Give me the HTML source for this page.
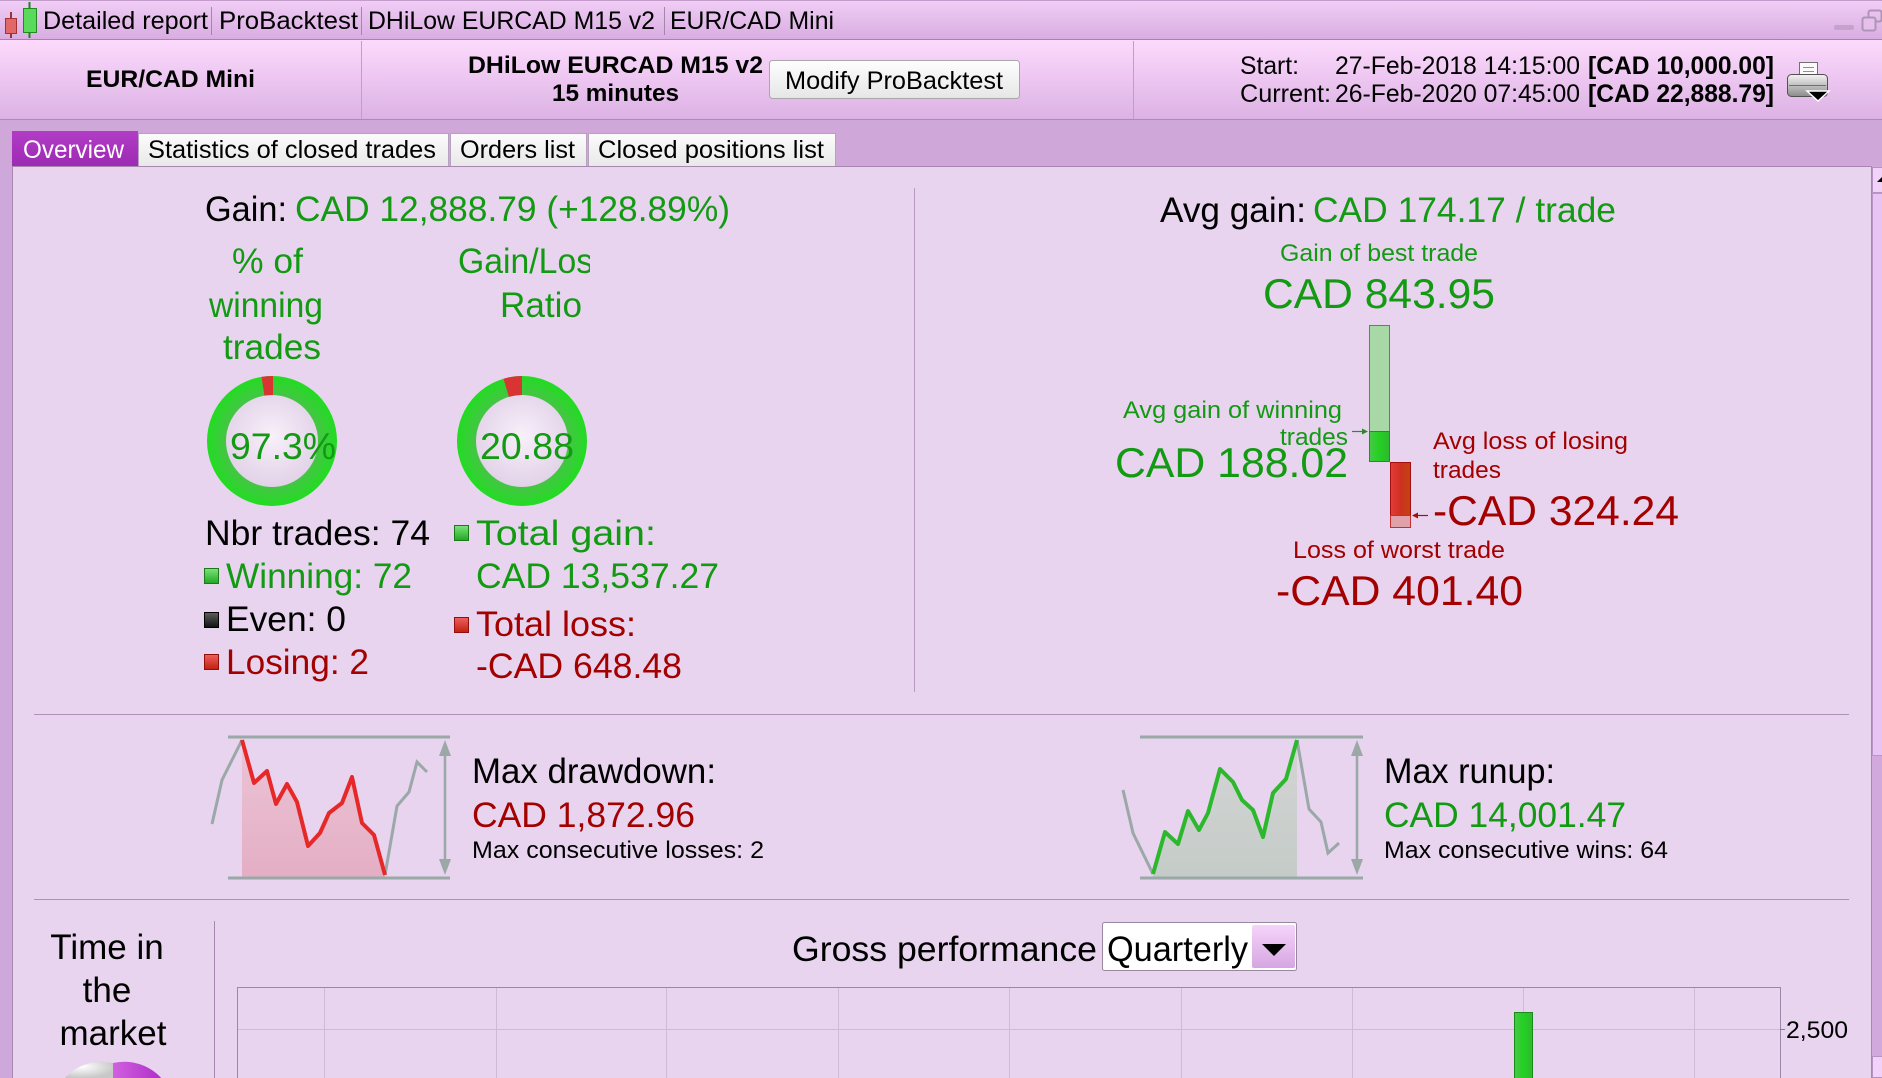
<!DOCTYPE html>
<html><head><meta charset="utf-8"><style>
html,body{margin:0;padding:0;width:1882px;height:1078px;overflow:hidden;background:#e8d4ee;}
svg{display:block;}
</style></head><body>
<svg xmlns="http://www.w3.org/2000/svg" width="1882" height="1078" viewBox="0 0 1882 1078" font-family="Liberation Sans, Arial, sans-serif">
<defs>
<linearGradient id="gTitle" x1="0" y1="0" x2="0" y2="1"><stop offset="0" stop-color="#f1cef6"/><stop offset="1" stop-color="#d8ace1"/></linearGradient>
<linearGradient id="gHead" x1="0" y1="0" x2="0" y2="1"><stop offset="0" stop-color="#fcdafc"/><stop offset="1" stop-color="#dcb2e4"/></linearGradient>
<linearGradient id="gBtn" x1="0" y1="0" x2="0" y2="1"><stop offset="0" stop-color="#fefefe"/><stop offset="1" stop-color="#e6e6e6"/></linearGradient>
<linearGradient id="gTab" x1="0" y1="0" x2="0" y2="1"><stop offset="0" stop-color="#fcfcfc"/><stop offset="1" stop-color="#e8e8e8"/></linearGradient>
<linearGradient id="gTabA" x1="0" y1="0" x2="0" y2="1"><stop offset="0" stop-color="#b23cc6"/><stop offset="1" stop-color="#9c2ab2"/></linearGradient>
<radialGradient id="gRing" cx="0.5" cy="0.5" r="0.5"><stop offset="0.7" stop-color="#46c446"/><stop offset="1" stop-color="#22dc22"/></radialGradient>
<radialGradient id="gInner" cx="0.5" cy="0.45" r="0.55"><stop offset="0" stop-color="#f8f0fa"/><stop offset="1" stop-color="#e2d2e8"/></radialGradient>
<linearGradient id="gSqG" x1="0" y1="0" x2="0" y2="1"><stop offset="0" stop-color="#7ee27e"/><stop offset="1" stop-color="#1fa81f"/></linearGradient>
<linearGradient id="gSqR" x1="0" y1="0" x2="0" y2="1"><stop offset="0" stop-color="#f06060"/><stop offset="1" stop-color="#c02010"/></linearGradient>
<linearGradient id="gSqK" x1="0" y1="0" x2="0" y2="1"><stop offset="0" stop-color="#606060"/><stop offset="1" stop-color="#101010"/></linearGradient>
<linearGradient id="gBarG" x1="0" y1="0" x2="1" y2="0"><stop offset="0" stop-color="#48c848"/><stop offset="0.5" stop-color="#22d022"/><stop offset="1" stop-color="#30b830"/></linearGradient>
<linearGradient id="gBarR" x1="0" y1="0" x2="1" y2="0"><stop offset="0" stop-color="#e43c3c"/><stop offset="0.5" stop-color="#d03020"/><stop offset="1" stop-color="#c04410"/></linearGradient>
<linearGradient id="gDD" x1="0" y1="0" x2="0" y2="1"><stop offset="0" stop-color="#ecc4d6"/><stop offset="1" stop-color="#e4aec4"/></linearGradient>
<linearGradient id="gRU" x1="0" y1="0" x2="0" y2="1"><stop offset="0" stop-color="#d4d4d4"/><stop offset="1" stop-color="#c4ccc8"/></linearGradient>
<linearGradient id="gDrop" x1="0" y1="0" x2="0" y2="1"><stop offset="0" stop-color="#f6d4fa"/><stop offset="1" stop-color="#d6a6e2"/></linearGradient>
<radialGradient id="gPieW" cx="0.35" cy="0.3" r="0.7"><stop offset="0" stop-color="#ffffff"/><stop offset="1" stop-color="#c8c8c8"/></radialGradient>
<linearGradient id="gPieM" x1="0" y1="0" x2="1" y2="0"><stop offset="0" stop-color="#d060e0"/><stop offset="1" stop-color="#b030c8"/></linearGradient>
<linearGradient id="gPrn" x1="0" y1="0" x2="0" y2="1"><stop offset="0" stop-color="#f4f4f4"/><stop offset="1" stop-color="#8c8c8c"/></linearGradient>
<clipPath id="clipGL"><rect x="440" y="240" width="150" height="100"/></clipPath>
<clipPath id="clipBot"><rect x="0" y="0" width="1882" height="1078"/></clipPath>
</defs>

<!-- base -->
<rect x="0" y="0" width="1882" height="1078" fill="#e8d4ee"/>

<!-- title bar -->
<rect x="0" y="0" width="1882" height="40" fill="url(#gTitle)"/>
<line x1="0" y1="0.5" x2="1882" y2="0.5" fill="none" stroke="#c49ccc"/>
<line x1="0" y1="39.5" x2="1882" y2="39.5" stroke="#a880b2"/>
<line x1="11" y1="12" x2="11" y2="38" stroke="#a03030" stroke-width="2"/>
<rect x="5.5" y="18.5" width="11" height="15" fill="#e06868" stroke="#a83030"/>
<line x1="29.5" y1="2" x2="29.5" y2="38" stroke="#208020" stroke-width="2"/>
<rect x="23.5" y="8.5" width="13" height="24" fill="#5ada5a" stroke="#208a20"/>
<g font-size="25" fill="#000">
<text x="43" y="29" textLength="165" lengthAdjust="spacingAndGlyphs">Detailed report</text>
<text x="219" y="29" textLength="139" lengthAdjust="spacingAndGlyphs">ProBacktest</text>
<text x="368" y="29" textLength="287" lengthAdjust="spacingAndGlyphs">DHiLow EURCAD M15 v2</text>
<text x="670" y="29" textLength="164" lengthAdjust="spacingAndGlyphs">EUR/CAD Mini</text>
</g>
<line x1="211.5" y1="7" x2="211.5" y2="35" stroke="#a088a8"/>
<line x1="361.5" y1="7" x2="361.5" y2="35" stroke="#a088a8"/>
<line x1="664.5" y1="7" x2="664.5" y2="35" stroke="#a088a8"/>
<rect x="1834" y="25" width="20" height="5" rx="2" fill="#c4a4cc"/>
<rect x="1868.5" y="10.5" width="13" height="11" rx="2" fill="none" stroke="#b094b8" stroke-width="2"/>
<rect x="1862.5" y="17.5" width="13" height="13" rx="2" fill="#e4c0ea" stroke="#b094b8" stroke-width="2"/>

<!-- header band -->
<rect x="0" y="40" width="1882" height="79" fill="url(#gHead)"/>
<line x1="0" y1="119.5" x2="1882" y2="119.5" stroke="#b088ba"/>
<line x1="361.5" y1="41" x2="361.5" y2="119" stroke="#c49ccc"/>
<line x1="1133.5" y1="41" x2="1133.5" y2="119" stroke="#c49ccc"/>
<g font-size="24" font-weight="bold" fill="#000">
<text x="86" y="87" textLength="169" lengthAdjust="spacingAndGlyphs">EUR/CAD Mini</text>
<text x="468" y="73" textLength="295" lengthAdjust="spacingAndGlyphs">DHiLow EURCAD M15 v2</text>
<text x="552" y="101" textLength="127" lengthAdjust="spacingAndGlyphs">15 minutes</text>
</g>
<rect x="769.5" y="60.5" width="250" height="38" rx="3" fill="url(#gBtn)" stroke="#a8a8a8"/>
<text x="785" y="89" font-size="25" fill="#000" textLength="218" lengthAdjust="spacingAndGlyphs">Modify ProBacktest</text>
<g font-size="25" fill="#000">
<text x="1240" y="74" textLength="59" lengthAdjust="spacingAndGlyphs">Start:</text>
<text x="1335" y="74" textLength="245" lengthAdjust="spacingAndGlyphs">27-Feb-2018 14:15:00</text>
<text x="1588" y="74" font-weight="bold" textLength="186" lengthAdjust="spacingAndGlyphs">[CAD 10,000.00]</text>
<text x="1240" y="102" textLength="91" lengthAdjust="spacingAndGlyphs">Current:</text>
<text x="1335" y="102" textLength="245" lengthAdjust="spacingAndGlyphs">26-Feb-2020 07:45:00</text>
<text x="1588" y="102" font-weight="bold" textLength="186" lengthAdjust="spacingAndGlyphs">[CAD 22,888.79]</text>
</g>
<!-- printer -->
<rect x="1799.5" y="62.5" width="18" height="16" fill="#fafafa" stroke="#707070"/>
<line x1="1803" y1="67.5" x2="1814" y2="67.5" stroke="#909090"/>
<line x1="1803" y1="71.5" x2="1814" y2="71.5" stroke="#909090"/>
<rect x="1787.5" y="74.5" width="40" height="22" rx="4" fill="url(#gPrn)" stroke="#505050"/>
<line x1="1789" y1="85.5" x2="1826" y2="85.5" stroke="#707070"/>
<path d="M1807,91 L1829,91 L1818,101 Z" fill="#000" stroke="#fff" stroke-width="1.5"/>

<!-- tab strip -->
<rect x="0" y="120" width="1882" height="46" fill="#cfa7d9"/>
<rect x="12" y="131" width="126" height="36" fill="url(#gTabA)"/>
<rect x="138.5" y="133.5" width="310" height="33" fill="url(#gTab)" stroke="#b8a0c0"/>
<rect x="450.5" y="133.5" width="136" height="33" fill="url(#gTab)" stroke="#b8a0c0"/>
<rect x="588.5" y="133.5" width="247" height="33" fill="url(#gTab)" stroke="#b8a0c0"/>
<g font-size="25">
<text x="23" y="158" fill="#fff" textLength="101" lengthAdjust="spacingAndGlyphs">Overview</text>
<text x="148" y="158" fill="#000" textLength="288" lengthAdjust="spacingAndGlyphs">Statistics of closed trades</text>
<text x="460" y="158" fill="#000" textLength="115" lengthAdjust="spacingAndGlyphs">Orders list</text>
<text x="598" y="158" fill="#000" textLength="226" lengthAdjust="spacingAndGlyphs">Closed positions list</text>
</g>

<!-- content frame -->
<rect x="0" y="166" width="12" height="912" fill="#cfa8db"/>
<line x1="12.5" y1="166" x2="12.5" y2="1078" stroke="#a888b0"/>
<line x1="12" y1="166.5" x2="1871" y2="166.5" stroke="#a888b0"/>
<!-- scrollbar -->
<rect x="1871" y="166" width="11" height="912" fill="#d2a9dd"/>
<line x1="1871.5" y1="166" x2="1871.5" y2="1078" stroke="#a888b0"/>
<rect x="1872.5" y="167.5" width="10" height="25" fill="#f2d2f8" stroke="#b494c0"/>
<path d="M1877,182 L1882,182 L1882,177 Z" fill="#000"/>
<rect x="1872.5" y="193.5" width="10" height="562" fill="#e8c4f4" stroke="#b898c8"/>
<rect x="1872.5" y="1056.5" width="10" height="21" fill="#f2d2f8" stroke="#b494c0"/>

<!-- top-left section -->
<line x1="914.5" y1="188" x2="914.5" y2="692" stroke="#b89cc0"/>
<text x="205" y="221" font-size="35" fill="#000" textLength="82" lengthAdjust="spacingAndGlyphs">Gain:</text>
<text x="295" y="221" font-size="35" fill="#139a13" textLength="435" lengthAdjust="spacingAndGlyphs">CAD 12,888.79 (+128.89%)</text>
<g font-size="35" fill="#139a13">
<text x="232" y="273" textLength="71" lengthAdjust="spacingAndGlyphs">% of</text>
<text x="209" y="317" textLength="114" lengthAdjust="spacingAndGlyphs">winning</text>
<text x="223" y="359" textLength="98" lengthAdjust="spacingAndGlyphs">trades</text>
<text x="458" y="273" clip-path="url(#clipGL)" textLength="152" lengthAdjust="spacingAndGlyphs">Gain/Loss</text>
<text x="500" y="317" textLength="82" lengthAdjust="spacingAndGlyphs">Ratio</text>
</g>
<!-- donut 1 -->
<circle cx="272" cy="441" r="65" fill="url(#gRing)"/>
<circle cx="272" cy="441" r="46" fill="url(#gInner)"/>
<path d="M261.5,376.9 A65,65 0 0 1 273,376 L273,395 A46,46 0 0 0 264.5,395.6 Z" fill="#d83434"/>
<text x="230" y="459" font-size="37" fill="#139a13" textLength="106" lengthAdjust="spacingAndGlyphs">97.3%</text>
<!-- donut 2 -->
<circle cx="522" cy="441" r="65" fill="url(#gRing)"/>
<circle cx="522" cy="441" r="46" fill="url(#gInner)"/>
<path d="M503.5,378.7 A65,65 0 0 1 522,376 L522,395 A46,46 0 0 0 508.9,396.9 Z" fill="#d83434"/>
<text x="480" y="459" font-size="37" fill="#139a13" textLength="94" lengthAdjust="spacingAndGlyphs">20.88</text>

<g font-size="35">
<text x="205" y="545" fill="#000" textLength="225" lengthAdjust="spacingAndGlyphs">Nbr trades: 74</text>
<rect x="204.5" y="568.5" width="14" height="15" fill="url(#gSqG)" stroke="#1a7a1a"/>
<text x="226" y="588" fill="#139a13" textLength="186" lengthAdjust="spacingAndGlyphs">Winning: 72</text>
<rect x="204.5" y="612.5" width="14" height="15" fill="url(#gSqK)" stroke="#000"/>
<text x="226" y="631" fill="#000" textLength="120" lengthAdjust="spacingAndGlyphs">Even: 0</text>
<rect x="204.5" y="654.5" width="14" height="15" fill="url(#gSqR)" stroke="#901010"/>
<text x="226" y="674" fill="#a30000" textLength="143" lengthAdjust="spacingAndGlyphs">Losing: 2</text>
<rect x="454.5" y="525.5" width="14" height="15" fill="url(#gSqG)" stroke="#1a7a1a"/>
<text x="476" y="545" fill="#139a13" textLength="180" lengthAdjust="spacingAndGlyphs">Total gain:</text>
<text x="476" y="588" fill="#139a13" textLength="243" lengthAdjust="spacingAndGlyphs">CAD 13,537.27</text>
<rect x="454.5" y="617.5" width="14" height="15" fill="url(#gSqR)" stroke="#901010"/>
<text x="476" y="636" fill="#a30000" textLength="160" lengthAdjust="spacingAndGlyphs">Total loss:</text>
<text x="476" y="678" fill="#a30000" textLength="206" lengthAdjust="spacingAndGlyphs">-CAD 648.48</text>
</g>

<!-- top-right section -->
<text x="1160" y="222" font-size="35" fill="#000" textLength="146" lengthAdjust="spacingAndGlyphs">Avg gain:</text>
<text x="1313" y="222" font-size="35" fill="#139a13" textLength="303" lengthAdjust="spacingAndGlyphs">CAD 174.17 / trade</text>
<text x="1280" y="261" font-size="24" fill="#139a13" textLength="198" lengthAdjust="spacingAndGlyphs">Gain of best trade</text>
<text x="1263" y="308" font-size="42" fill="#139a13" textLength="232" lengthAdjust="spacingAndGlyphs">CAD 843.95</text>
<rect x="1369.5" y="325.5" width="20" height="106" fill="#a8d8a6" stroke="#3c9c3c"/>
<rect x="1369.5" y="431.5" width="20" height="30" fill="url(#gBarG)" stroke="#209020"/>
<rect x="1390.5" y="462.5" width="20" height="53" fill="url(#gBarR)" stroke="#a01010"/>
<rect x="1390.5" y="515.5" width="20" height="12" fill="#e0a2a8" stroke="#c03030"/>
<line x1="1352" y1="431.5" x2="1364" y2="431.5" stroke="#2a8a2a" stroke-width="1.2"/>
<path d="M1368,431.5 L1362,428.5 L1362,434.5 Z" fill="#2a8a2a"/>
<line x1="1416" y1="515.5" x2="1428" y2="515.5" stroke="#a01010" stroke-width="1.2"/>
<path d="M1412,515.5 L1418,512.5 L1418,518.5 Z" fill="#a01010"/>
<text x="1123" y="418" font-size="24" fill="#139a13" textLength="219" lengthAdjust="spacingAndGlyphs">Avg gain of winning</text>
<text x="1280" y="445" font-size="24" fill="#139a13" textLength="68" lengthAdjust="spacingAndGlyphs">trades</text>
<text x="1115" y="477" font-size="42" fill="#139a13" textLength="233" lengthAdjust="spacingAndGlyphs">CAD 188.02</text>
<text x="1433" y="449" font-size="24" fill="#a30000" textLength="195" lengthAdjust="spacingAndGlyphs">Avg loss of losing</text>
<text x="1433" y="478" font-size="24" fill="#a30000" textLength="68" lengthAdjust="spacingAndGlyphs">trades</text>
<text x="1433" y="525" font-size="42" fill="#a30000" textLength="246" lengthAdjust="spacingAndGlyphs">-CAD 324.24</text>
<text x="1293" y="558" font-size="24" fill="#a30000" textLength="212" lengthAdjust="spacingAndGlyphs">Loss of worst trade</text>
<text x="1276" y="605" font-size="42" fill="#a30000" textLength="247" lengthAdjust="spacingAndGlyphs">-CAD 401.40</text>

<!-- separators -->
<line x1="34" y1="714.5" x2="1849" y2="714.5" stroke="#b090b8"/>
<line x1="34" y1="899.5" x2="1849" y2="899.5" stroke="#b090b8"/>

<!-- drawdown -->
<polygon points="242,740 254,783 267,771 276,804 287,784 297,802 308,846 320,833 329,813 342,803 352,777 362,823 374,835 385,875 385,878 242,878" fill="url(#gDD)"/>
<line x1="228" y1="737" x2="450" y2="737" stroke="#9aa8a8" stroke-width="3"/>
<line x1="228" y1="878" x2="450" y2="878" stroke="#9aa8a8" stroke-width="3"/>
<line x1="445" y1="752" x2="445" y2="863" stroke="#9aa8a8" stroke-width="2.5"/>
<path d="M445,740 L439,756 L451,756 Z" fill="#9aa8a8"/>
<path d="M445,875 L439,859 L451,859 Z" fill="#9aa8a8"/>
<polyline points="212,824 222,780 242,740" fill="none" stroke="#9aa8a8" stroke-width="3"/>
<polyline points="385,875 397,806 409,792 417,762 427,772" fill="none" stroke="#9aa8a8" stroke-width="3"/>
<polyline points="242,740 254,783 267,771 276,804 287,784 297,802 308,846 320,833 329,813 342,803 352,777 362,823 374,835 385,875" fill="none" stroke="#e62828" stroke-width="4" stroke-linejoin="round"/>
<text x="472" y="783" font-size="35" fill="#000" textLength="244" lengthAdjust="spacingAndGlyphs">Max drawdown:</text>
<text x="472" y="827" font-size="35" fill="#a30000" textLength="223" lengthAdjust="spacingAndGlyphs">CAD 1,872.96</text>
<text x="472" y="858" font-size="24" fill="#000" textLength="292" lengthAdjust="spacingAndGlyphs">Max consecutive losses: 2</text>

<!-- runup -->
<polygon points="1153,874 1165,832 1178,844 1188,811 1199,830 1208,813 1220,769 1233,782 1242,800 1253,810 1263,837 1273,793 1286,779 1297,740 1297,878 1153,878" fill="url(#gRU)"/>
<line x1="1140" y1="737" x2="1363" y2="737" stroke="#9aa8a8" stroke-width="3"/>
<line x1="1140" y1="878" x2="1363" y2="878" stroke="#9aa8a8" stroke-width="3"/>
<line x1="1357" y1="752" x2="1357" y2="863" stroke="#9aa8a8" stroke-width="2.5"/>
<path d="M1357,740 L1351,756 L1363,756 Z" fill="#9aa8a8"/>
<path d="M1357,875 L1351,859 L1363,859 Z" fill="#9aa8a8"/>
<polyline points="1123,790 1133,833 1153,874" fill="none" stroke="#9aa8a8" stroke-width="3"/>
<polyline points="1297,740 1309,809 1321,822 1328,853 1339,843" fill="none" stroke="#9aa8a8" stroke-width="3"/>
<polyline points="1153,874 1165,832 1178,844 1188,811 1199,830 1208,813 1220,769 1233,782 1242,800 1253,810 1263,837 1273,793 1286,779 1297,740" fill="none" stroke="#2cb82c" stroke-width="4" stroke-linejoin="round"/>
<text x="1384" y="783" font-size="35" fill="#000" textLength="171" lengthAdjust="spacingAndGlyphs">Max runup:</text>
<text x="1384" y="827" font-size="35" fill="#139a13" textLength="242" lengthAdjust="spacingAndGlyphs">CAD 14,001.47</text>
<text x="1384" y="858" font-size="24" fill="#000" textLength="284" lengthAdjust="spacingAndGlyphs">Max consecutive wins: 64</text>

<!-- bottom -->
<line x1="214.5" y1="921" x2="214.5" y2="1078" stroke="#a888b0"/>
<g font-size="35" fill="#000" text-anchor="middle">
<text x="107" y="959">Time in</text>
<text x="107" y="1002">the</text>
<text x="113" y="1045">market</text>
</g>
<g clip-path="url(#clipBot)">
<path d="M63,1113 A50,50 0 0 1 163,1113 L163,1078 L63,1078 Z" fill="none"/>
<path d="M113,1063 A50,50 0 0 0 64.8,1078 L113,1078 Z" fill="url(#gPieW)"/>
<path d="M113,1063 A50,50 0 0 1 161.2,1078 L113,1078 Z" fill="url(#gPieM)"/>
</g>

<text x="792" y="961" font-size="35" fill="#000" textLength="305" lengthAdjust="spacingAndGlyphs">Gross performance</text>
<rect x="1102.5" y="922.5" width="194" height="48" rx="2" fill="#fff" stroke="#9a88a0"/>
<text x="1107" y="961" font-size="35" fill="#000" textLength="141" lengthAdjust="spacingAndGlyphs">Quarterly</text>
<rect x="1252" y="925" width="43" height="43" rx="2" fill="url(#gDrop)"/>
<path d="M1262,944 L1286,944 L1274,956 Z" fill="#000"/>

<!-- chart -->
<g stroke="#cdbcd4" stroke-width="1">
<line x1="324.5" y1="988" x2="324.5" y2="1078"/>
<line x1="496.5" y1="988" x2="496.5" y2="1078"/>
<line x1="666.5" y1="988" x2="666.5" y2="1078"/>
<line x1="838.5" y1="988" x2="838.5" y2="1078"/>
<line x1="1009.5" y1="988" x2="1009.5" y2="1078"/>
<line x1="1181.5" y1="988" x2="1181.5" y2="1078"/>
<line x1="1352.5" y1="988" x2="1352.5" y2="1078"/>
<line x1="1523.5" y1="988" x2="1523.5" y2="1078"/>
<line x1="1694.5" y1="988" x2="1694.5" y2="1078"/>
<line x1="238" y1="1029.5" x2="1780" y2="1029.5"/>
</g>
<path d="M237.5,1078 L237.5,987.5 L1780.5,987.5 L1780.5,1078" fill="none" stroke="#9a88a8"/>
<line x1="1780" y1="1029.5" x2="1785" y2="1029.5" stroke="#8a7898"/>
<text x="1786" y="1038" font-size="24" fill="#000" textLength="62" lengthAdjust="spacingAndGlyphs">2,500</text>
<path d="M1514.5,1078 L1514.5,1012.5 L1532.5,1012.5 L1532.5,1078" fill="url(#gBarG)" stroke="#1a8a1a"/>
</svg>
</body></html>
